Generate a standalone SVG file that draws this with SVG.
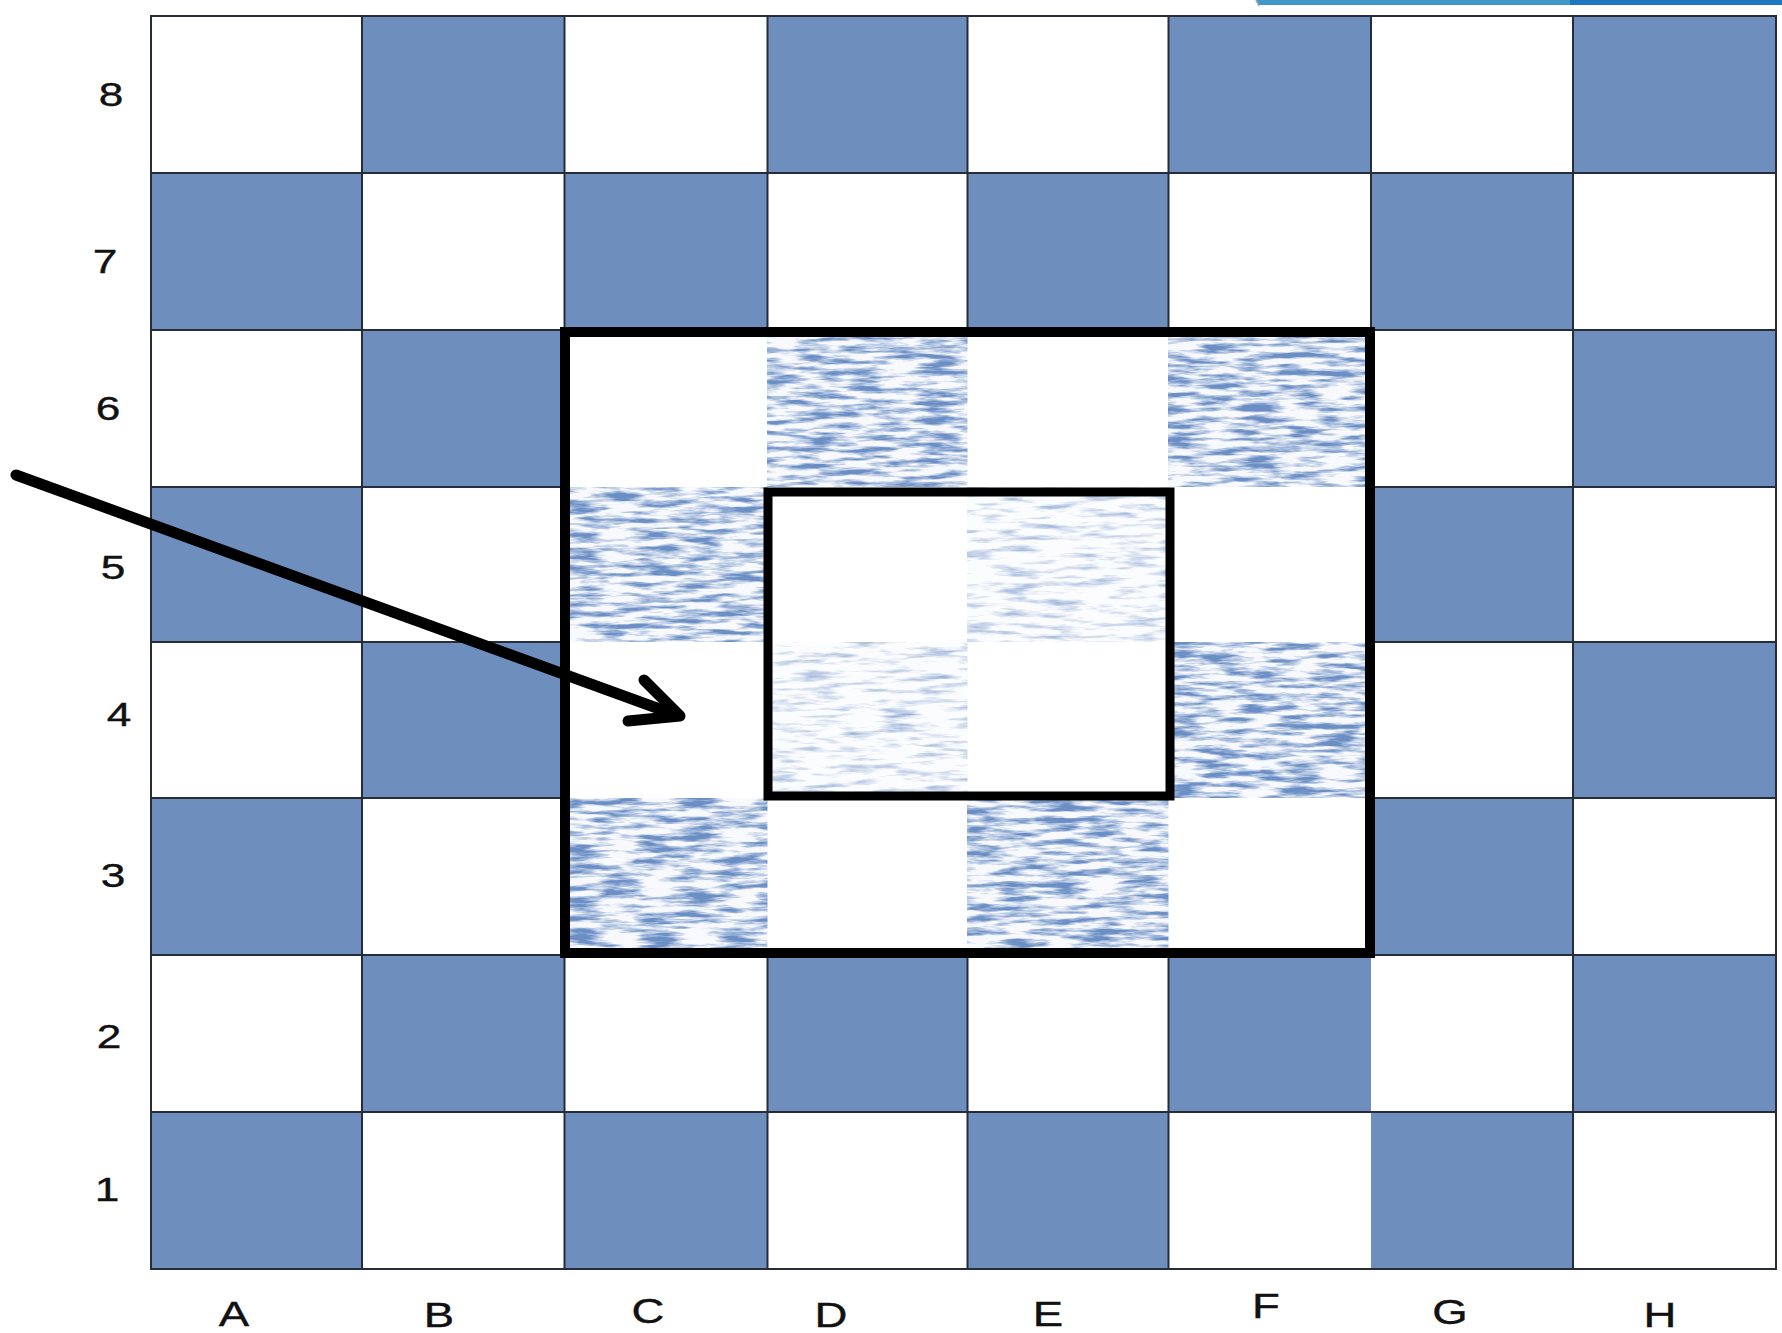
<svg xmlns="http://www.w3.org/2000/svg" width="1782" height="1333" viewBox="0 0 1782 1333">
<style>
.b{fill:#6e8fbe}
.w{fill:#ffffff}
.t{fill:#ffffff;filter:url(#tex)}
.f{fill:#ffffff;filter:url(#texf)}
.gl{stroke:#262c3a;stroke-width:2;fill:none}
.lbl{font-family:"Liberation Sans",Arial,sans-serif;fill:#111;stroke:#111;stroke-width:0.4;text-anchor:middle}
.num{font-size:34px}
.let{font-size:35px}
.frame{fill:none;stroke:#000;stroke-width:10}
.inner{fill:none;stroke:#000;stroke-width:9}
.arrow{fill:none;stroke:#000;stroke-width:11;stroke-linecap:round;stroke-linejoin:round}
</style>
<defs>
<filter id="tex" x="0" y="0" width="1" height="1" color-interpolation-filters="sRGB">
<feTurbulence type="fractalNoise" baseFrequency="0.025 0.17" numOctaves="4" seed="4" result="n"/>
<feColorMatrix in="n" type="matrix" values="0 0 0 0 0.42  0 0 0 0 0.56  0 0 0 0 0.77  3.4 0 0 0 -1.38" result="c"/>
<feFlood flood-color="#f7f9fd" result="wh"/>
<feComposite in="c" in2="wh" operator="over"/>
</filter>
<filter id="texf" x="0" y="0" width="1" height="1" color-interpolation-filters="sRGB">
<feTurbulence type="fractalNoise" baseFrequency="0.025 0.17" numOctaves="4" seed="9" result="n"/>
<feColorMatrix in="n" type="matrix" values="0 0 0 0 0.48  0 0 0 0 0.60  0 0 0 0 0.80  2.0 0 0 0 -0.97" result="c"/>
<feFlood flood-color="#fbfcfe" result="wh"/>
<feComposite in="c" in2="wh" operator="over"/>
</filter>
</defs>
<rect width="1782" height="1333" fill="#ffffff"/>
<polygon points="1256,0 1782,0 1782,5 1259,5" fill="#3f98c6"/>
<rect x="1570" y="0" width="212" height="5" fill="#1f77c4"/>
<line x1="1256" y1="0" x2="1259" y2="6" stroke="#9aa8b4" stroke-width="1.5"/>

<g id="board">
<rect class="w" x="151" y="16" width="211" height="157"/>
<rect class="b" x="362" y="16" width="202.5" height="157"/>
<rect class="w" x="564.5" y="16" width="203" height="157"/>
<rect class="b" x="767.5" y="16" width="200" height="157"/>
<rect class="w" x="967.5" y="16" width="201" height="157"/>
<rect class="b" x="1168.5" y="16" width="202.5" height="157"/>
<rect class="w" x="1371" y="16" width="202" height="157"/>
<rect class="b" x="1573" y="16" width="203" height="157"/>
<rect class="b" x="151" y="173" width="211" height="157"/>
<rect class="w" x="362" y="173" width="202.5" height="157"/>
<rect class="b" x="564.5" y="173" width="203" height="157"/>
<rect class="w" x="767.5" y="173" width="200" height="157"/>
<rect class="b" x="967.5" y="173" width="201" height="157"/>
<rect class="w" x="1168.5" y="173" width="202.5" height="157"/>
<rect class="b" x="1371" y="173" width="202" height="157"/>
<rect class="w" x="1573" y="173" width="203" height="157"/>
<rect class="w" x="151" y="330" width="211" height="157"/>
<rect class="b" x="362" y="330" width="202.5" height="157"/>
<rect class="w" x="564.5" y="330" width="203" height="157"/>
<rect class="t" x="767.5" y="330" width="200" height="157"/>
<rect class="w" x="967.5" y="330" width="201" height="157"/>
<rect class="t" x="1168.5" y="330" width="202.5" height="157"/>
<rect class="w" x="1371" y="330" width="202" height="157"/>
<rect class="b" x="1573" y="330" width="203" height="157"/>
<rect class="b" x="151" y="487" width="211" height="155"/>
<rect class="w" x="362" y="487" width="202.5" height="155"/>
<rect class="t" x="564.5" y="487" width="203" height="155"/>
<rect class="w" x="767.5" y="487" width="200" height="155"/>
<rect class="f" x="967.5" y="487" width="201" height="155"/>
<rect class="w" x="1168.5" y="487" width="202.5" height="155"/>
<rect class="b" x="1371" y="487" width="202" height="155"/>
<rect class="w" x="1573" y="487" width="203" height="155"/>
<rect class="w" x="151" y="642" width="211" height="156"/>
<rect class="b" x="362" y="642" width="202.5" height="156"/>
<rect class="w" x="564.5" y="642" width="203" height="156"/>
<rect class="f" x="767.5" y="642" width="200" height="156"/>
<rect class="w" x="967.5" y="642" width="201" height="156"/>
<rect class="t" x="1168.5" y="642" width="202.5" height="156"/>
<rect class="w" x="1371" y="642" width="202" height="156"/>
<rect class="b" x="1573" y="642" width="203" height="156"/>
<rect class="b" x="151" y="798" width="211" height="157"/>
<rect class="w" x="362" y="798" width="202.5" height="157"/>
<rect class="t" x="564.5" y="798" width="203" height="157"/>
<rect class="w" x="767.5" y="798" width="200" height="157"/>
<rect class="t" x="967.5" y="798" width="201" height="157"/>
<rect class="w" x="1168.5" y="798" width="202.5" height="157"/>
<rect class="b" x="1371" y="798" width="202" height="157"/>
<rect class="w" x="1573" y="798" width="203" height="157"/>
<rect class="w" x="151" y="955" width="211" height="157"/>
<rect class="b" x="362" y="955" width="202.5" height="157"/>
<rect class="w" x="564.5" y="955" width="203" height="157"/>
<rect class="b" x="767.5" y="955" width="200" height="157"/>
<rect class="w" x="967.5" y="955" width="201" height="157"/>
<rect class="b" x="1168.5" y="955" width="202.5" height="157"/>
<rect class="w" x="1371" y="955" width="202" height="157"/>
<rect class="b" x="1573" y="955" width="203" height="157"/>
<rect class="b" x="151" y="1112" width="211" height="157"/>
<rect class="w" x="362" y="1112" width="202.5" height="157"/>
<rect class="b" x="564.5" y="1112" width="203" height="157"/>
<rect class="w" x="767.5" y="1112" width="200" height="157"/>
<rect class="b" x="967.5" y="1112" width="201" height="157"/>
<rect class="w" x="1168.5" y="1112" width="202.5" height="157"/>
<rect class="b" x="1371" y="1112" width="202" height="157"/>
<rect class="w" x="1573" y="1112" width="203" height="157"/>
</g>

<g id="gridlines" class="gl">
<rect x="151" y="16" width="1625" height="1253"/>
<path d="M362 16V1269M1573 16V1269M564.5 16V330M767.5 16V330M967.5 16V330M1168.5 16V330M1371 16V330M564.5 955V1269M767.5 955V1269M967.5 955V1269M1168.5 955V1269M1371 330V955"/>
<path d="M151 173H1776M151 1112H1776M151 330H1776M151 955H1776M151 487H564.5M1371 487H1776M151 642H564.5M1371 642H1776M151 798H564.5M1371 798H1776"/>
</g>

<g id="outer-frame"><rect class="frame" x="565" y="332" width="805" height="621"/></g>
<g id="inner-frame"><rect class="inner" x="768" y="492" width="402" height="304"/></g>

<g id="ranks" class="lbl num">
<text transform="translate(111,106) scale(1.3,1)">8</text>
<text transform="translate(105,273) scale(1.3,1)">7</text>
<text transform="translate(108,420) scale(1.3,1)">6</text>
<text transform="translate(113,579) scale(1.3,1)">5</text>
<text transform="translate(119,726) scale(1.3,1)">4</text>
<text transform="translate(113,887) scale(1.3,1)">3</text>
<text transform="translate(109,1048) scale(1.3,1)">2</text>
<text transform="translate(107,1201) scale(1.3,1)">1</text>
</g>
<g id="files" class="lbl let">
<text transform="translate(234,1326) scale(1.3,1)">A</text>
<text transform="translate(439,1327) scale(1.3,1)">B</text>
<text transform="translate(648,1323) scale(1.3,1)">C</text>
<text transform="translate(831,1327) scale(1.3,1)">D</text>
<text transform="translate(1048,1326) scale(1.3,1)">E</text>
<text transform="translate(1266,1318) scale(1.3,1)">F</text>
<text transform="translate(1450,1324) scale(1.3,1)">G</text>
<text transform="translate(1660,1327) scale(1.3,1)">H</text>
</g>

<g id="connectors">
<line class="arrow" x1="16" y1="475" x2="676" y2="715"/>
<polyline class="arrow" points="644,680 680,716 628,721"/>
</g>
</svg>
